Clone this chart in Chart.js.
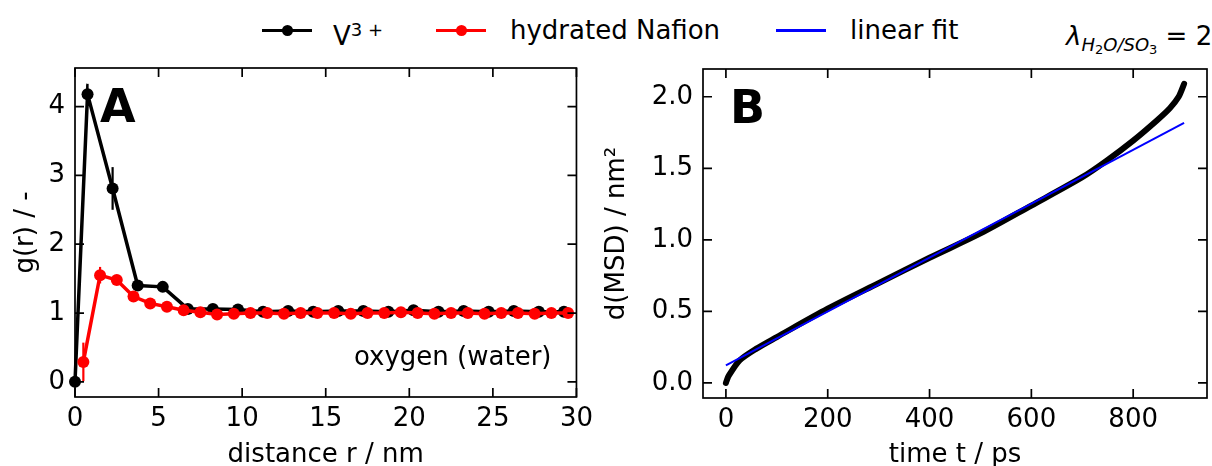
<!DOCTYPE html>
<html>
<head>
<meta charset="utf-8">
<script src="https://cdn.jsdelivr.net/npm/chart.js@4.4.1/dist/chart.umd.min.js"></script>
<style>
  body { margin: 0; background: #fff; width: 1212px; height: 466px; overflow: hidden; position: relative; font-family: 'DejaVu Sans'; }
  .box { position: absolute; top: 0; height: 466px; }
  #boxA { left: 0; width: 600px; }
  #boxB { left: 600px; width: 612px; }
  .leg { position: absolute; top: 15px; font-size: 26px; line-height: 30px; color: #000; white-space: nowrap; }
  .line { position: absolute; top: 28.5px; height: 3.5px; width: 50px; }
  .dot { position: absolute; top: 25px; width: 11px; height: 11px; border-radius: 50%; }
  .lam { position: absolute; left: 1066px; top: 21px; font-size: 26px; line-height: 30px; white-space: nowrap; }
  .lam i { font-style: italic; }
  .lam .s1 { font-size: 18px; font-style: italic; vertical-align: -6px; }
  .lam .s2 { font-size: 13px; font-style: normal; vertical-align: -3px; }
</style>
</head>
<body>
<div class="line" style="left:262px;background:#000"></div><div class="dot" style="left:281.5px;background:#000"></div>
<div class="leg" style="left:333px">V<sup style="font-size:18px;vertical-align:9px">3 +</sup></div>
<div class="line" style="left:436px;background:#f00"></div><div class="dot" style="left:455.5px;background:#f00"></div>
<div class="leg" style="left:510px">hydrated Nafion</div>
<div class="line" style="left:776px;background:#00f;height:3px"></div>
<div class="leg" style="left:850px">linear fit</div>
<div class="lam"><i>λ</i><span class="s1">H<span class="s2">2</span>O/SO<span class="s2">3</span></span> = 2</div>

<div class="box" id="boxA"><canvas id="chartA"></canvas></div>
<div class="box" id="boxB"><canvas id="chartB"></canvas></div>

<script>
// panel A: radial distribution g(r)
const rV = [0, 0.75, 2.25, 3.75, 5.25, 6.75, 8.25, 9.75, 11.25, 12.75, 14.25, 15.75, 17.25, 18.75, 20.25, 21.75, 23.25, 24.75, 26.25, 27.75, 29.25];
const gV = [0, 4.18, 2.81, 1.40, 1.38, 1.06, 1.06, 1.05, 1.02, 1.03, 1.02, 1.03, 1.03, 1.02, 1.04, 1.02, 1.03, 1.02, 1.03, 1.02, 1.02];
const errV = [0, 0.15, 0.31, 0.04, 0.04, 0.03, 0.02, 0.02, 0.02, 0.02, 0.02, 0.02, 0.02, 0.02, 0.02, 0.02, 0.02, 0.02, 0.02, 0.02, 0.02];

const rNaf = [0.5, 1.5, 2.5, 3.5, 4.5, 5.5, 6.5, 7.5, 8.5, 9.5, 10.5, 11.5, 12.5, 13.5, 14.5, 15.5, 16.5, 17.5, 18.5, 19.5, 20.5, 21.5, 22.5, 23.5, 24.5, 25.5, 26.5, 27.5, 28.5, 29.5];
const gNaf = [0.29, 1.55, 1.48, 1.24, 1.14, 1.09, 1.04, 1.01, 0.98, 0.99, 1.00, 1.00, 0.99, 1.00, 1.00, 1.00, 0.99, 1.00, 1.00, 1.01, 1.00, 0.99, 1.00, 1.00, 0.99, 1.00, 1.00, 0.99, 1.00, 1.00];
const errNaf = [0.28, 0.12, 0.07, 0.06, 0.04, 0.03, 0.02, 0.02, 0.02, 0.02, 0.02, 0.02, 0.02, 0.02, 0.02, 0.02, 0.02, 0.02, 0.02, 0.02, 0.02, 0.02, 0.02, 0.02, 0.02, 0.02, 0.02, 0.02, 0.02, 0.02];

// panel B: d(MSD) over time + linear fit
const tMsd = [0, 4, 8, 27, 60, 100, 200, 300, 400, 500, 600, 700, 748, 800, 846, 872, 889, 900];
const dMsd = [0, 0.04, 0.065, 0.158, 0.24, 0.321, 0.519, 0.698, 0.875, 1.045, 1.24, 1.438, 1.554, 1.694, 1.833, 1.92, 1.998, 2.09];
const tFit = [0, 900];
const dFit = [0.123, 1.817];

const xTicksA = [0, 5, 10, 15, 20, 25, 30];
const yTicksA = [0, 1, 2, 3, 4];
const xTicksB = [0, 200, 400, 600, 800];
const yTicksB = [0, 0.5, 1.0, 1.5, 2.0];

const FONT = 'DejaVu Sans';
const FS = 26;

function pts(xs, ys) {
    return xs.map((x, i) => ({ x: x, y: ys[i] }));
}

// vertical error bars, drawn from the dataset's errors array
const errorBars = {
    id: 'errorBars',
    beforeDatasetsDraw(chart) {
        const { ctx, scales: { x, y } } = chart;
        chart.data.datasets.forEach(ds => {
            if (!ds.errors) return;
            ctx.save();
            ctx.strokeStyle = ds.borderColor;
            ctx.lineWidth = 2.2;
            ds.data.forEach((p, j) => {
                const e = ds.errors[j];
                if (!e) return;
                const px = x.getPixelForValue(p.x);
                ctx.beginPath();
                ctx.moveTo(px, y.getPixelForValue(p.y - e));
                ctx.lineTo(px, y.getPixelForValue(p.y + e));
                ctx.stroke();
            });
            ctx.restore();
        });
    }
};

// box frame, inward ticks on all sides, panel letter + note
const frame = {
    id: 'frame',
    afterDraw(chart, args, opts) {
        const { ctx, chartArea: a, scales: { x, y } } = chart;
        ctx.save();
        ctx.strokeStyle = '#000';
        ctx.lineWidth = 1.7;
        ctx.strokeRect(a.left, a.top, a.right - a.left, a.bottom - a.top);
        ctx.beginPath();
        x.ticks.forEach(t => {
            const px = x.getPixelForValue(t.value);
            ctx.moveTo(px, a.bottom); ctx.lineTo(px, a.bottom - 9);
            ctx.moveTo(px, a.top); ctx.lineTo(px, a.top + 9);
        });
        y.ticks.forEach(t => {
            const py = y.getPixelForValue(t.value);
            ctx.moveTo(a.left, py); ctx.lineTo(a.left + 9, py);
            ctx.moveTo(a.right, py); ctx.lineTo(a.right - 9, py);
        });
        ctx.stroke();
        ctx.fillStyle = '#000';
        ctx.font = 'bold 46px "' + FONT + '"';
        ctx.textBaseline = 'alphabetic';
        ctx.fillText(opts.letter, a.left + opts.lx, a.top + 54);
        if (opts.note) {
            ctx.font = FS + 'px "' + FONT + '"';
            ctx.textAlign = 'right';
            ctx.fillText(opts.note, a.right - 25, a.bottom - 32);
        }
        ctx.restore();
    }
};

function xAxis(min, max, tickArr, title, height) {
    return {
        type: 'linear', min: min, max: max,
        afterBuildTicks: s => { s.ticks = tickArr.map(v => ({ value: v })); },
        afterFit: s => { s.height = height; },
        grid: { display: false, drawTicks: false },
        border: { display: false },
        ticks: { color: '#000', font: { family: FONT, size: FS }, padding: 7, maxRotation: 0 },
        title: { display: true, text: title, color: '#000', font: { family: FONT, size: FS, lineHeight: 0.84 }, padding: 0 }
    };
}

function yAxis(min, max, tickArr, title, width, titlePad, fmt) {
    return {
        type: 'linear', min: min, max: max,
        afterBuildTicks: s => { s.ticks = tickArr.map(v => ({ value: v })); },
        afterFit: s => { s.width = width; },
        grid: { display: false, drawTicks: false },
        border: { display: false },
        ticks: { color: '#000', font: { family: FONT, size: FS }, padding: 10, callback: fmt },
        title: { display: true, text: title, color: '#000', font: { family: FONT, size: FS, lineHeight: 1 }, padding: { top: titlePad, bottom: 0 } }
    };
}

new Chart(document.getElementById('chartA'), {
    type: 'scatter',
    data: {
        datasets: [{
            label: 'V³⁺',
            data: pts(rV, gV),
            errors: errV,
            showLine: true,
            borderColor: '#000',
            backgroundColor: '#000',
            borderWidth: 3.5,
            pointRadius: 6,
            pointBorderWidth: 0,
            order: 2,
            clip: false
        }, {
            label: 'hydrated Nafion',
            data: pts(rNaf, gNaf),
            errors: errNaf,
            showLine: true,
            borderColor: '#f00',
            backgroundColor: '#f00',
            borderWidth: 3.5,
            pointRadius: 6,
            pointBorderWidth: 0,
            order: 1,
            clip: false
        }]
    },
    options: {
        responsive: true,
        maintainAspectRatio: false,
        animation: false,
        devicePixelRatio: 1,
        layout: { padding: { top: 68, right: 20, left: 0, bottom: 0 } },
        plugins: {
            legend: { display: false },
            tooltip: { enabled: false },
            frame: { letter: 'A', lx: 25, note: 'oxygen (water)' }
        },
        scales: {
            x: xAxis(0, 30, xTicksA, 'distance r / nm', 69),
            y: yAxis(-0.22, 4.56, yTicksA, 'g(r) / -', 75, 13, v => v)
        }
    },
    plugins: [errorBars, frame]
});

new Chart(document.getElementById('chartB'), {
    type: 'scatter',
    data: {
        datasets: [{
            label: 'V³⁺',
            data: pts(tMsd, dMsd),
            showLine: true,
            borderColor: '#000',
            borderWidth: 6,
            borderCapStyle: 'round',
            pointRadius: 0,
            tension: 0.3,
            order: 2
        }, {
            label: 'linear fit',
            data: pts(tFit, dFit),
            showLine: true,
            borderColor: '#00f',
            borderWidth: 2,
            pointRadius: 0,
            order: 1
        }]
    },
    options: {
        responsive: true,
        maintainAspectRatio: false,
        animation: false,
        devicePixelRatio: 1,
        layout: { padding: { top: 69, right: 5, left: 0, bottom: 0 } },
        plugins: {
            legend: { display: false },
            tooltip: { enabled: false },
            frame: { letter: 'B', lx: 27 }
        },
        scales: {
            x: xAxis(-45, 945, xTicksB, 'time t / ps', 68),
            y: yAxis(-0.105, 2.194, yTicksB, 'd(MSD) / nm²', 103, 4, v => v.toFixed(1))
        }
    },
    plugins: [errorBars, frame]
});
</script>
</body>
</html>
